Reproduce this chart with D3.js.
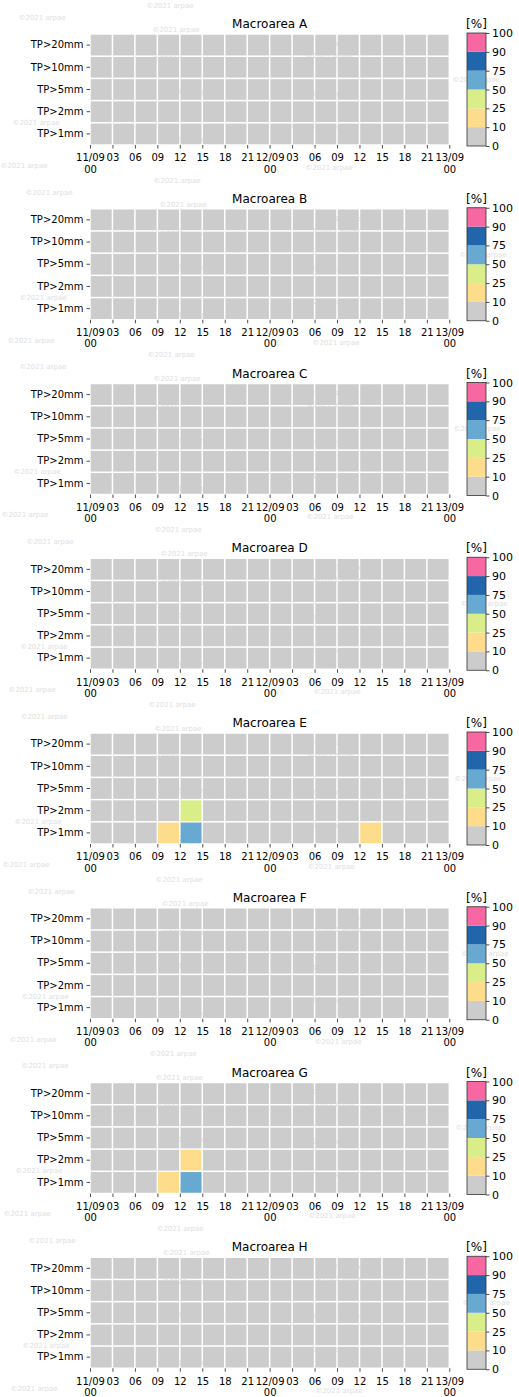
<!DOCTYPE html>
<html><head><meta charset="utf-8">
<script src="https://cdn.jsdelivr.net/npm/d3@7"></script>
<style>
body{margin:0;background:#fff}
svg{display:block}
text{font-family:"DejaVu Sans",sans-serif;fill:#000}
</style>
</head><body>
<svg id="chart" width="519" height="1397"></svg>
<script>
// ---------- data ----------
const areas = ["Macroarea A","Macroarea B","Macroarea C","Macroarea D","Macroarea E","Macroarea F","Macroarea G","Macroarea H"];
const thresholds = ["TP>20mm","TP>10mm","TP>5mm","TP>2mm","TP>1mm"];
const stepHours = [0,3,6,9,12,15,18,21,24,27,30,33,36,39,42,45];
const tickHours = [0,3,6,9,12,15,18,21,24,27,30,33,36,39,42,45,48];
const tickLabels = ["11/09\n00","03","06","09","12","15","18","21","12/09\n00","03","06","09","12","15","18","21","13/09\n00"];
const levels = [0,10,25,50,75,90,100];
const levelColors = ["#cccccc","#fddd8b","#d9ee88","#67a9d0","#2165ab","#f767a1"];
const watermark = "©2021 arpae";

// probability [%] per row (TP>20mm ... TP>1mm) and 3-hour step
const zeroRow = [0,0,0,0,0,0,0,0,0,0,0,0,0,0,0,0];
const probA = [zeroRow, zeroRow, zeroRow, zeroRow, zeroRow];
const probB = [zeroRow, zeroRow, zeroRow, zeroRow, zeroRow];
const probC = [zeroRow, zeroRow, zeroRow, zeroRow, zeroRow];
const probD = [zeroRow, zeroRow, zeroRow, zeroRow, zeroRow];
const probE = [
  zeroRow, zeroRow, zeroRow,
  [0,0,0,0,30,0,0,0,0,0,0,0,0,0,0,0],
  [0,0,0,15,60,0,0,0,0,0,0,0,15,0,0,0]
];
const probF = [zeroRow, zeroRow, zeroRow, zeroRow, zeroRow];
const probG = [
  zeroRow, zeroRow, zeroRow,
  [0,0,0,0,15,0,0,0,0,0,0,0,0,0,0,0],
  [0,0,0,15,60,0,0,0,0,0,0,0,0,0,0,0]
];
const probH = [zeroRow, zeroRow, zeroRow, zeroRow, zeroRow];
const allProbs = [probA,probB,probC,probD,probE,probF,probG,probH];

// ---------- drawing ----------
const svg = d3.select("#chart");
const pitch = 174.75;
const gx0 = 90, gx1 = 449.3, gy0 = 34, gy1 = 145;
const x = d3.scaleLinear().domain([0,48]).range([gx0,gx1]);
const y = d3.scaleBand().domain(thresholds).range([gy0,gy1]);
const color = d3.scaleThreshold().domain(levels.slice(1,-1)).range(levelColors);
const cbY = d3.scaleLinear().domain([0,levels.length-1]).range([146,33]);
const cbX0 = 467, cbW = 19;

// faint watermark layer
const wmPos = [[176,6],[48,18],[182,30],[337,44],[182,59],[335,56],[197,92],[332,94],
               [320,127],[482,80],[42,123],[190,140],[335,168],[30,166]];

areas.forEach((name,i)=>{
  const g = svg.append("g").attr("transform",`translate(0,${i*pitch})`);
  g.append("g").selectAll("text").data(wmPos).join("text")
    .attr("x",d=>d[0] + ((i*7)%13) - 6).attr("y",d=>d[1])
    .attr("text-anchor","middle").attr("dominant-baseline","middle")
    .style("font-size","7px").style("fill","#e0e0e0")
    .text(watermark);

  const probs = allProbs[i];
  const cells = [];
  thresholds.forEach((t,r)=>stepHours.forEach((h,c)=>cells.push({t,h,v:probs[r][c]})));
  g.append("g").selectAll("rect").data(cells).join("rect")
    .attr("x",d=>x(d.h)+0.75)
    .attr("y",d=>y(d.t)+0.75)
    .attr("width",d=>x(d.h+3)-x(d.h)-1.5)
    .attr("height",y.bandwidth()-1.5)
    .attr("fill",d=>color(d.v));

  // y axis
  const ya = g.append("g").attr("transform",`translate(${gx0},0)`)
    .call(d3.axisLeft(y).tickSize(3.5).tickPadding(3));
  ya.select(".domain").remove();
  ya.selectAll("line").attr("stroke","#222").attr("stroke-width",0.8);
  ya.selectAll("text").style("font-size","10px").attr("fill","#000");

  // x axis
  const xa = g.append("g").attr("transform",`translate(0,${gy1})`)
    .call(d3.axisBottom(x).tickValues(tickHours).tickSize(3.5).tickFormat(""));
  xa.select(".domain").remove();
  xa.selectAll("line").attr("stroke","#222").attr("stroke-width",0.8);
  xa.selectAll(".tick").each(function(d,k){
    const lines = tickLabels[k].split("\n");
    const t = d3.select(this).append("text")
      .attr("text-anchor","middle").attr("y",16.3).style("font-size","10px").attr("fill","#000");
    lines.forEach((ln,j)=>t.append("tspan").attr("x",0).attr("dy",j===0?0:11.2).text(ln));
  });

  // title
  g.append("text").attr("x",(gx0+gx1)/2).attr("y",28).attr("text-anchor","middle")
    .style("font-size","12px").text(name);

  // colorbar
  const cb = g.append("g");
  cb.selectAll("rect").data(levelColors).join("rect")
    .attr("x",cbX0).attr("y",(d,k)=>cbY(k+1)).attr("width",cbW)
    .attr("height",(d,k)=>cbY(k)-cbY(k+1)).attr("fill",d=>d);
  cb.append("rect").attr("x",cbX0).attr("y",cbY(levels.length-1)).attr("width",cbW)
    .attr("height",cbY(0)-cbY(levels.length-1)).attr("fill","none").attr("stroke","#333").attr("stroke-width",0.8);
  const ca = cb.append("g").attr("transform",`translate(${cbX0+cbW},0)`)
    .call(d3.axisRight(cbY).tickValues(d3.range(levels.length)).tickFormat(k=>levels[k]).tickSize(3.5).tickPadding(2.5));
  ca.select(".domain").remove();
  ca.selectAll("line").attr("stroke","#222").attr("stroke-width",0.8);
  ca.selectAll("text").style("font-size","11px").attr("fill","#000");
  cb.append("text").attr("x",cbX0+cbW/2).attr("y",28).attr("text-anchor","middle")
    .style("font-size","12px").text("[%]");
});
</script>
</body></html>
